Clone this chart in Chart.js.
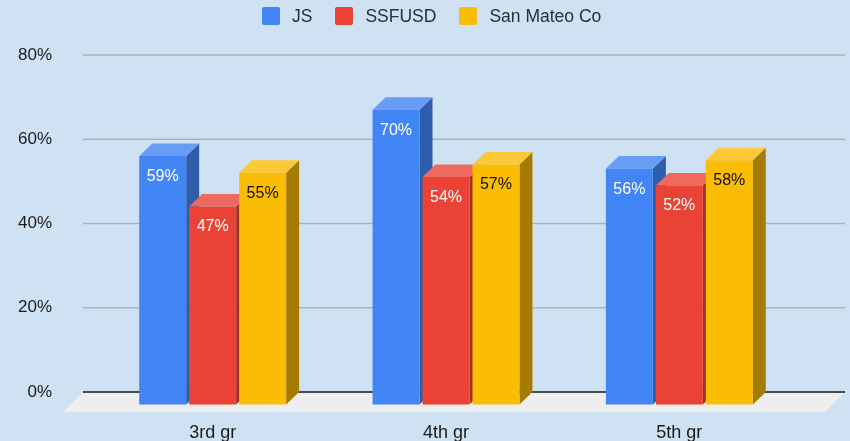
<!DOCTYPE html>
<html>
<head>
<meta charset="utf-8">
<script src="https://cdn.jsdelivr.net/npm/chart.js@4"></script>
<style>
    html, body { margin: 0; padding: 0; background: #cfe2f3; }
    #wrap { position: relative; width: 850px; height: 441px; overflow: hidden; }
    #wrap canvas { display: block; }
    #legend {
        position: absolute; top: 6px; left: 262px; display: flex; gap: 23px;
        font: 17.5px "Liberation Sans", Arial, sans-serif; color: #27303a;
    }
    #legend .item { display: flex; align-items: center; gap: 12px; height: 20px; white-space: nowrap; }
    #legend .swatch { width: 18px; height: 18px; border-radius: 2px; }
</style>
</head>
<body>
<div id="wrap">
    <div id="legend"></div>
    <canvas id="chart"></canvas>
</div>
<script>
const categories = ['3rd gr', '4th gr', '5th gr'];
const seriesNames = ['JS', 'SSFUSD', 'San Mateo Co'];
const jsValues = [59, 70, 56];
const ssfusdValues = [47, 54, 52];
const sanMateoValues = [55, 57, 58];
const yTicks = [0, 20, 40, 60, 80];

const frontColors = ['#4285f4', '#ea4335', '#fbbc04'];
const topColors = ['#689df6', '#ee6a5e', '#fcc936'];
const sideColors = ['#2e5dab', '#a32f25', '#a67c00'];
const labelColors = ['#ffffff', '#ffffff', '#111111'];

const FONT = '"Liberation Sans", Arial, sans-serif';
const DEPTH_X = 13;
const DEPTH_Y = 12.5;


function fillPoly(ctx, color, points) {
    ctx.fillStyle = color;
    ctx.beginPath();
    points.forEach((p, i) => i ? ctx.lineTo(p[0], p[1]) : ctx.moveTo(p[0], p[1]));
    ctx.closePath();
    ctx.fill();
}


// grid lines run wider than the category band, and the floor sits under them
const floorPlugin = {
    id: 'floor',
    beforeDatasetsDraw(chart) {
        const ctx = chart.ctx;
        const y = chart.scales.y;
        const left = 83;
        const right = 845;
        const zero = y.getPixelForValue(0);
        ctx.save();
        fillPoly(ctx, '#eeeeee', [[left, zero], [right, zero], [right - 20, zero + 20], [left - 20, zero + 20]]);
        y.ticks.forEach(t => {
            const py = y.getPixelForValue(t.value);
            ctx.strokeStyle = t.value === 0 ? '#434b52' : '#a5b4c1';
            ctx.lineWidth = t.value === 0 ? 2 : 1.5;
            ctx.beginPath();
            ctx.moveTo(left, py);
            ctx.lineTo(right, py);
            ctx.stroke();
        });
        ctx.restore();
    }
};

// each bar element is the back of a box: sides first, then the front pushed down.
// chart.js paints the last dataset first, here the later series has to sit in front
const boxPlugin = {
    id: 'box',
    beforeDatasetDraw() {
        return false;
    },
    afterDatasetsDraw(chart) {
        const ctx = chart.ctx;
        chart.data.datasets.forEach((ds, i) => {
            const meta = chart.getDatasetMeta(i);
            ctx.save();
            meta.data.forEach(bar => {
                const half = bar.width / 2;
                const x0 = bar.x - half;
                const x1 = bar.x + half;
                fillPoly(ctx, sideColors[i], [
                    [x1, bar.y + DEPTH_Y], [x1 + DEPTH_X, bar.y],
                    [x1 + DEPTH_X, bar.base], [x1, bar.base + DEPTH_Y]
                ]);
                fillPoly(ctx, topColors[i], [
                    [x0, bar.y + DEPTH_Y], [x0 + DEPTH_X, bar.y],
                    [x1 + DEPTH_X, bar.y], [x1, bar.y + DEPTH_Y]
                ]);
            });
            ctx.translate(0, DEPTH_Y);
            meta.controller.draw();
            ctx.restore();
        });

        ctx.save();
        ctx.font = '16px ' + FONT;
        ctx.textAlign = 'center';
        ctx.textBaseline = 'middle';
        chart.data.datasets.forEach((ds, i) => {
            ctx.fillStyle = labelColors[i];
            chart.getDatasetMeta(i).data.forEach((bar, j) => {
                ctx.fillText(ds.data[j] + '%', bar.x, bar.y + DEPTH_Y + 20.5);
            });
        });
        ctx.restore();
    }
};


function initChart() {
    const values = [jsValues, ssfusdValues, sanMateoValues];
    const ctx = document.getElementById('chart').getContext('2d');
    return new Chart(ctx, {
        type: 'bar',
        data: {
            labels: categories,
            datasets: seriesNames.map((name, i) => ({
                label: name,
                data: values[i],
                backgroundColor: frontColors[i],
                barPercentage: 0.94,
                categoryPercentage: 0.6424
            }))
        },
        options: {
            responsive: true,
            maintainAspectRatio: false,
            animation: false,
            layout: { padding: { top: 55, right: 54, bottom: 0, left: 0 } },
            scales: {
                x: {
                    grid: { display: false },
                    border: { display: false },
                    ticks: { color: '#1a1a1a', font: { family: FONT, size: 18 }, padding: 22, maxRotation: 0 },
                    afterFit: scale => { scale.height = 49; }
                },
                y: {
                    min: 0,
                    max: 80,
                    grid: { display: false },
                    border: { display: false },
                    afterBuildTicks: scale => { scale.ticks = yTicks.map(v => ({ value: v })); },
                    ticks: { color: '#1a1a1a', font: { family: FONT, size: 17 }, padding: 36, callback: v => v + '%' },
                    afterFit: scale => { scale.width = 96; }
                }
            },
            plugins: {
                legend: { display: false },
                tooltip: { enabled: false }
            }
        },
        plugins: [floorPlugin, boxPlugin]
    });
}


function buildLegend() {
    const legend = document.getElementById('legend');
    seriesNames.forEach((name, i) => {
        const item = document.createElement('div');
        item.className = 'item';
        const swatch = document.createElement('span');
        swatch.className = 'swatch';
        swatch.style.background = frontColors[i];
        const text = document.createElement('span');
        text.textContent = name;
        item.append(swatch, text);
        legend.append(item);
    });
}


buildLegend();
initChart();
</script>
</body>
</html>
